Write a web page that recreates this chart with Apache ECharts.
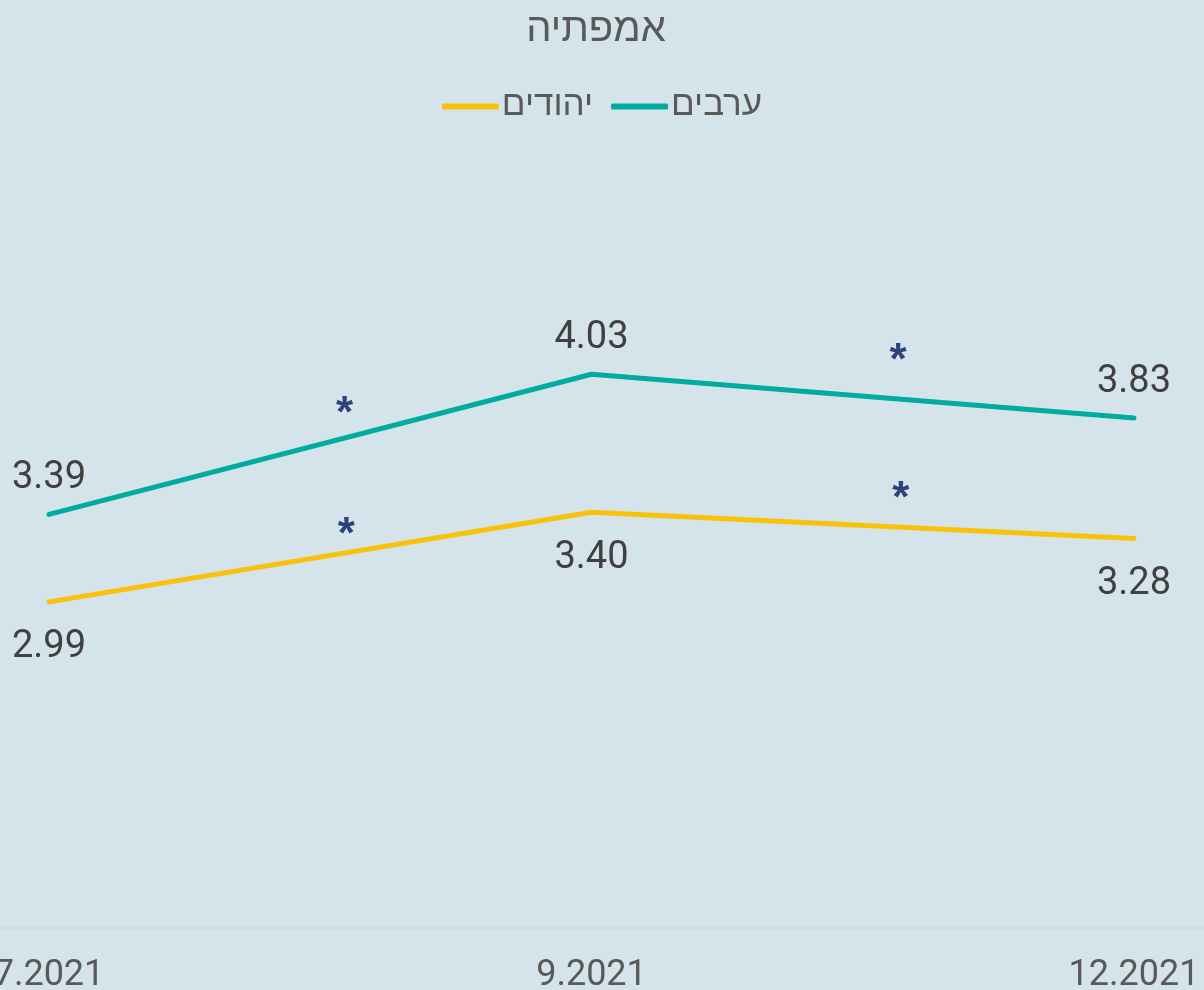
<!DOCTYPE html>
<html>
<head>
<meta charset="utf-8">
<script src="https://cdn.jsdelivr.net/npm/echarts@6/dist/echarts.min.js"></script>
<style>
html,body{margin:0;padding:0;background:#d5e3ea;}
#chart{width:1204px;height:990px;}
</style>
</head>
<body>
<div id="chart"></div>
<script>
// אמפתיה - ערבים / יהודים
var months = ['7.2021', '9.2021', '12.2021'];
var arabs = [3.39, 4.03, 3.83];
var jews = [2.99, 3.40, 3.28];
// כוכביות מובהקות (x בין הקטגוריות, y ערך)
var starX = [0.545, 1.565, 0.548, 1.57];
var starY = [3.845, 4.085, 3.29, 3.455];

var font = 'Roboto, "Liberation Sans", "DejaVu Sans", sans-serif';
var chart = echarts.init(document.getElementById('chart'));
chart.setOption({
    backgroundColor: '#d5e3ea',
    animation: false,
    title: {
        text: 'אמפתיה',
        left: 591,
        textAlign: 'center',
        top: 6,
        textStyle: {fontFamily: font, fontSize: 40, fontWeight: 'normal', color: '#595959'}
    },
    legend: {
        data: ['יהודים', 'ערבים'],
        top: 84,
        left: 'center',
        itemWidth: 57,
        itemHeight: 6,
        itemGap: 18,
        icon: 'roundRect',
        textStyle: {fontFamily: font, fontSize: 35, color: '#595959', padding: [0, 0, 0, -2]}
    },
    grid: [
        {left: 49, right: 70, top: 162, bottom: 62, outerBoundsMode: 'none'},
        // full width, only for the axis line
        {left: 0, right: 0, top: 162, bottom: 62, outerBoundsMode: 'none'}
    ],
    xAxis: [
        {
            type: 'category',
            data: months,
            boundaryGap: false,
            axisLine: {show: false},
            axisTick: {show: false},
            axisLabel: {fontFamily: font, fontSize: 36, color: '#595959', margin: 30}
        },
        {
            type: 'value', min: 0, max: 2, show: false
        },
        {
            type: 'value', gridIndex: 1, min: 0, max: 1,
            axisLine: {show: true, lineStyle: {color: '#dcd8d6', width: 2}},
            axisTick: {show: false},
            axisLabel: {show: false},
            splitLine: {show: false}
        }
    ],
    yAxis: [
        {type: 'value', min: 1.5, max: 5, show: false},
        {type: 'value', gridIndex: 1, min: 0, max: 1, show: false}
    ],
    series: [
        {
            name: 'ערבים',
            type: 'line',
            data: arabs,
            color: '#00ab9f',
            symbol: 'circle',
            symbolSize: 0,
            lineStyle: {width: 5, cap: 'round', join: 'round'},
            label: {
                show: true, position: 'top', distance: 17,
                formatter: function(p){ return p.value.toFixed(2); },
                fontFamily: font, fontSize: 38, color: '#404040'
            }
        },
        {
            name: 'יהודים',
            type: 'line',
            data: jews,
            color: '#f9c20a',
            symbol: 'circle',
            symbolSize: 0,
            lineStyle: {width: 5, cap: 'round', join: 'round'},
            label: {
                show: true, position: 'bottom', distance: 27,
                formatter: function(p){ return p.value.toFixed(2); },
                fontFamily: font, fontSize: 38, color: '#404040'
            }
        },
        {
            type: 'scatter',
            xAxisIndex: 1,
            data: starX.map(function(x, i){ return [x, starY[i]]; }),
            symbolSize: 0,
            silent: true,
            label: {
                show: true, position: 'inside', formatter: '*',
                fontFamily: '"Liberation Sans", sans-serif', fontSize: 44, fontWeight: 'bold', color: '#001a5c'
            }
        }
    ]
});
</script>
</body>
</html>
